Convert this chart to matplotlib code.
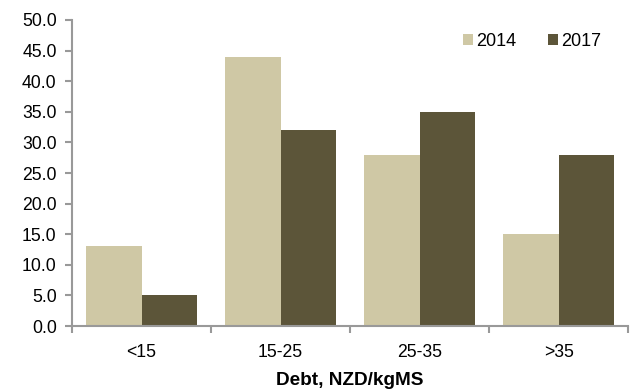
import numpy as np
import matplotlib
matplotlib.use('Agg')
import matplotlib.pyplot as plt

categories = ['<15', '15-25', '25-35', '>35']
vals_2014 = [13, 44, 28, 15]
vals_2017 = [5, 32, 35, 28]

plt.rcParams['font.family'] = ['Liberation Sans', 'DejaVu Sans']
plt.rcParams['font.size'] = 12.7

fig = plt.figure(figsize=(6.35, 3.91), dpi=100)
ax = fig.add_axes([0.1134, 0.166, 0.876, 0.783])

x = np.arange(len(categories))
w = 0.4
ax.bar(x - w / 2, vals_2014, w, color='#CFC8A5', label='2014')
ax.bar(x + w / 2, vals_2017, w, color='#5C5539', label='2017')

ax.set_xlim(-0.5, len(categories) - 0.5)
ax.set_ylim(0, 50)
ax.set_yticks(np.arange(0, 50.1, 5))
ax.set_yticklabels(['%.1f' % v for v in np.arange(0, 50.1, 5)])

# boundary ticks between groups, labels centred under each group
ax.set_xticks(np.arange(-0.5, len(categories), 1))
ax.set_xticklabels([])
ax.set_xticks(x, minor=True)
ax.set_xticklabels(categories, minor=True)
ax.tick_params(axis='x', which='minor', length=0, pad=13)
ax.tick_params(axis='x', which='major', length=5, width=1.5, color='#999999')
ax.tick_params(axis='y', length=5, width=1.5, color='#999999', pad=6)

for s in ['top', 'right']:
    ax.spines[s].set_visible(False)
for s in ['left', 'bottom']:
    ax.spines[s].set_color('#999999')
    ax.spines[s].set_linewidth(1.5)

ax.set_xlabel('Debt, NZD/kgMS', fontweight='bold', fontsize=13.7, labelpad=8)
ax.legend(loc='upper right', ncol=2, frameon=False, fontsize=13,
          handlelength=0.55, handleheight=0.55, handletextpad=0.15,
          columnspacing=1.8, bbox_to_anchor=(0.98, 1.01))

fig.savefig('out.png', dpi=100)
